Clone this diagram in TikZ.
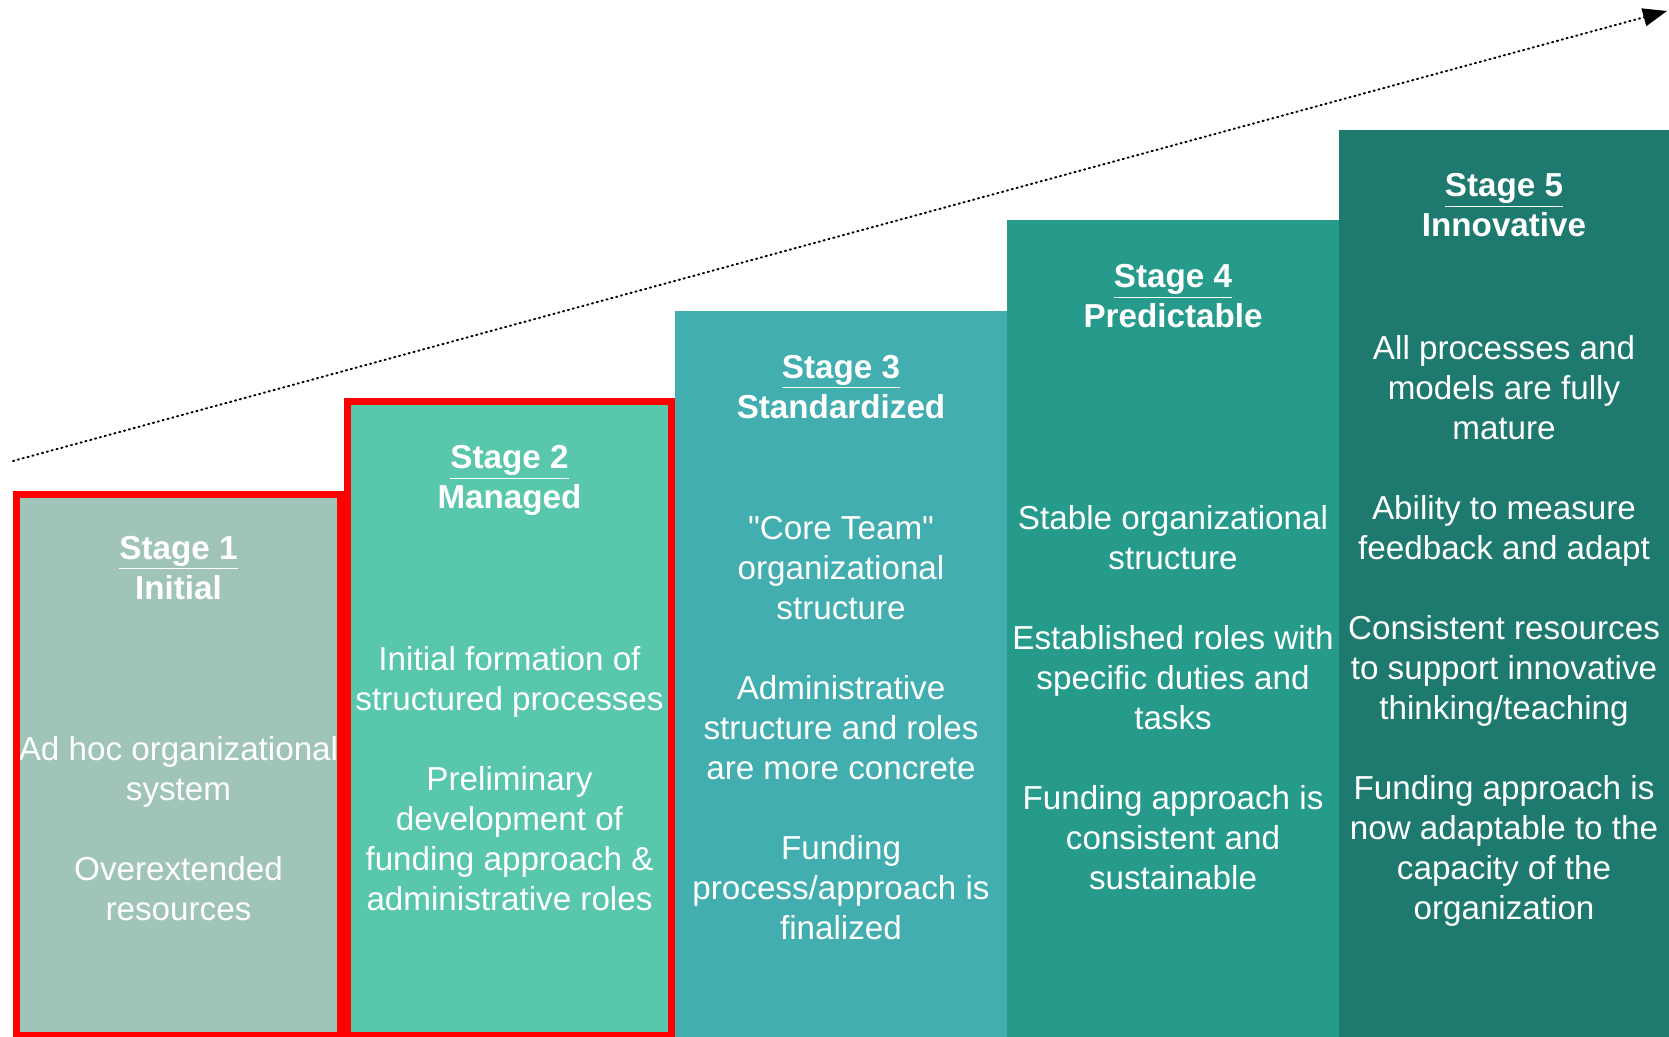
\documentclass[tikz,border=0pt]{standalone}
\usepackage{fontspec}
\setmainfont{Liberation Sans}[Ligatures=TeXOff]
\usetikzlibrary{arrows.meta}
\definecolor{cA}{HTML}{A0C4BA}
\definecolor{cB}{HTML}{59C7AC}
\definecolor{cC}{HTML}{42AEB0}
\definecolor{cD}{HTML}{269B8C}
\definecolor{cE}{HTML}{1E7A6E}
\definecolor{redline}{HTML}{FF0000}
\tikzset{
  head/.style={text=white, font=\fontsize{16.6}{20}\selectfont\bfseries, align=center, inner sep=0pt},
  body/.style={text=white, font=\fontsize{16.6}{20}\selectfont, align=center, inner sep=0pt},
  redbox/.style={draw=redline, line width=3.6pt},
  progress/.style={line width=1pt, line cap=round, dash pattern=on 0.6pt off 1.9pt, -{Triangle[length=12pt,width=9pt]}}
}
\begin{document}
\begin{tikzpicture}[x=0.5pt,y=-0.5pt]
\useasboundingbox (0,0) rectangle (1669,1037);
% columns
\fill[cA] (13,491) rectangle (344,1037);
\fill[cB] (344,398) rectangle (675,1037);
\fill[cC] (675,311) rectangle (1007,1037);
\fill[cD] (1007,220) rectangle (1339,1037);
\fill[cE] (1339,130) rectangle (1669,1037);
% arrow
\coordinate (arrS) at (13,461);
\coordinate (arrE) at (1667,11);
\draw[progress] (arrS) -- (arrE);
% stage 1
\node[head] (h1) at (178.5,571) {\strut\underline{Stage 1}\\\strut Initial};
\node[body] (b1) at (178.5,832) {\strut Ad hoc organizational\\\strut system\\[20pt]\strut Overextended\\\strut resources};
% stage 2
\node[head] (h2) at (509.5,480.5) {\strut\underline{Stage 2}\\\strut Managed};
\node[body] (b2) at (509.5,782) {\strut Initial formation of\\\strut structured processes\\[20pt]\strut Preliminary\\\strut development of\\\strut funding approach \&\\\strut administrative roles};
% stage 3
\node[head] (h3) at (841,390) {\strut\underline{Stage 3}\\\strut Standardized};
\node[body] (b3) at (841,731.5) {\strut "Core Team"\\\strut organizational\\\strut structure\\[20pt]\strut Administrative\\\strut structure and roles\\\strut are more concrete\\[20pt]\strut Funding\\\strut process/approach is\\\strut finalized};
% stage 4
\node[head] (h4) at (1173,299.5) {\strut\underline{Stage 4}\\\strut Predictable};
\node[body] (b4) at (1173,701.5) {\strut Stable organizational\\\strut structure\\[20pt]\strut Established roles with\\\strut specific duties and\\\strut tasks\\[20pt]\strut Funding approach is\\\strut consistent and\\\strut sustainable};
% stage 5
\node[head] (h5) at (1504,209) {\strut\underline{Stage 5}\\\strut Innovative};
\node[body] (b5) at (1504,631.5) {\strut All processes and\\\strut models are fully\\\strut mature\\[20pt]\strut Ability to measure\\\strut feedback and adapt\\[20pt]\strut Consistent resources\\\strut to support innovative\\\strut thinking/teaching\\[20pt]\strut Funding approach is\\\strut now adaptable to the\\\strut capacity of the\\\strut organization};
% red highlight boxes
\draw[redbox] (16.6,494.1) rectangle (340.4,1035.5);
\draw[redbox] (347.6,401.1) rectangle (671.4,1035.5);
\end{tikzpicture}
\end{document}
